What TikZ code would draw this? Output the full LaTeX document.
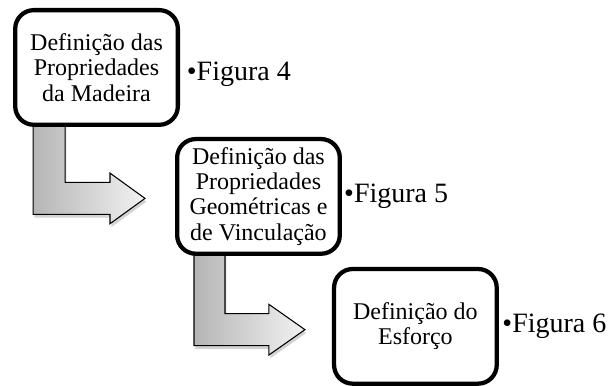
\documentclass[tikz,border=0pt]{standalone}
\usepackage{fontspec}
\setmainfont{Liberation Serif}
\usetikzlibrary{positioning, calc, shadows, backgrounds}

\begin{document}
\begin{tikzpicture}[
      stage/.style={rectangle, rounded corners=14pt, draw, line width=3.2pt, fill=white, minimum width=122pt, minimum height=86pt, align=center, inner sep=2pt, font=\fontsize{18}{19}\selectfont},
      figref/.style={inner sep=0pt, font=\fontsize{21}{24}\selectfont},
      bent/.style={draw, line width=0.8pt, left color=gray!58, right color=gray!10, drop shadow={shadow xshift=1pt, shadow yshift=-2.5pt, opacity=0.35}}
    ]
    \useasboundingbox (0,0) rectangle (462pt,-288.75pt);

    % Stages
    \node[stage] (madeira) at (72.4pt,-50.6pt) {Definição das\\Propriedades\\da Madeira};
    \node[stage, below right=7.5pt and -3.75pt of madeira] (geometria) {Definição das\\Propriedades\\Geométricas e\\de Vinculação};
    \node[stage, below right=8.25pt and -7.5pt of geometria] (esforco) {Definição do\\Esforço};

    % Figure references
    \node[figref, right=5pt of madeira, yshift=-5pt] (fig4) {•Figura 4};
    \node[figref, right=1.5pt of geometria] (fig5) {•Figura 5};
    \node[figref, right=2.5pt of esforco] (fig6) {•Figura 6};

    % Bent arrows between stages
    \begin{scope}[on background layer]
      \draw[bent] ($(madeira.south west)+(15pt,3pt)$)
        -- ($(madeira.south west |- geometria.west)+(15pt,-13.5pt)$)
        -- ($(geometria.west)+(-48.75pt,-13.5pt)$)
        -- ($(geometria.west)+(-48.75pt,-20.5pt)$)
        -- ($(geometria.west)+(-22.5pt,-1.5pt)$)
        -- ($(geometria.west)+(-48.75pt,17.5pt)$)
        -- ($(geometria.west)+(-48.75pt,10.5pt)$)
        -- ($(madeira.south west |- geometria.west)+(39pt,10.5pt)$)
        -- ($(madeira.south west)+(39pt,3pt)$) -- cycle;
      \draw[bent] ($(geometria.south west)+(14.25pt,3pt)$)
        -- ($(geometria.south west |- esforco.west)+(14.25pt,-14.5pt)$)
        -- ($(esforco.west)+(-47.25pt,-14.5pt)$)
        -- ($(esforco.west)+(-47.25pt,-21.5pt)$)
        -- ($(esforco.west)+(-20.25pt,-2.5pt)$)
        -- ($(esforco.west)+(-47.25pt,16.5pt)$)
        -- ($(esforco.west)+(-47.25pt,9.5pt)$)
        -- ($(geometria.south west |- esforco.west)+(37.5pt,9.5pt)$)
        -- ($(geometria.south west)+(37.5pt,3pt)$) -- cycle;
    \end{scope}

\end{tikzpicture}
\end{document}
